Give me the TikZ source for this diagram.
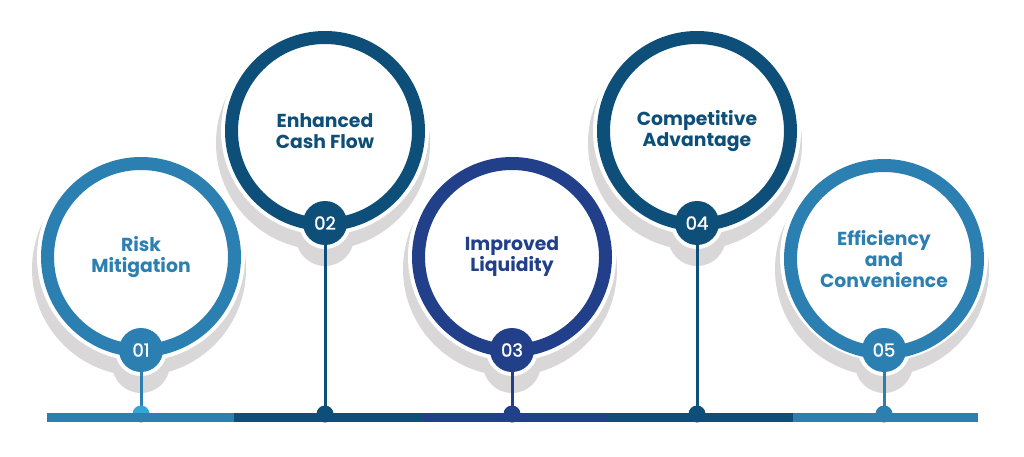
\documentclass[tikz,border=0pt]{standalone}
\usepackage{fontspec}
\setmainfont{Poppins}
\newfontfamily\numfont{Poppins}[FakeBold=1.3]
\definecolor{cLight}{HTML}{2C7FB1}
\definecolor{cDark}{HTML}{0E4F79}
\definecolor{cNavy}{HTML}{22408A}
\definecolor{cDome}{HTML}{3AA3D6}
\definecolor{shadowgray}{HTML}{D9D7D7}
\tikzset{
  ringshadow/.style={circle, fill=shadowgray, minimum size=214pt, inner sep=0pt},
  ringhalo/.style={circle, fill=white, minimum size=208pt, inner sep=0pt},
  ring/.style={circle, draw=#1, line width=13pt, minimum size=187pt, inner sep=0pt,
    text=#1, font=\bfseries\fontsize{18.8}{21}\selectfont, align=center},
  badgeshadow/.style={circle, fill=shadowgray, minimum size=58pt, inner sep=0pt},
  badgehalo/.style={circle, fill=white, minimum size=52pt, inner sep=0pt},
  badge/.style={circle, fill=#1, minimum size=44pt, inner sep=0pt,
    text=white, font=\numfont\fontsize{18}{18}\selectfont},
  stem/.style={draw=#1, line width=3pt},
  dome/.style={circle, fill=#1, minimum size=17pt, inner sep=0pt},
  barseg/.style={fill=#1},
}
\begin{document}
\begin{tikzpicture}[x=1pt,y=-1pt]
\useasboundingbox (0,0) rectangle (1024,457);
% ring shadows
\node[ringshadow] (s1) at (139,269) {};
\node[ringshadow] (s2) at (323,143) {};
\node[ringshadow] (s3) at (510,269) {};
\node[ringshadow] (s4) at (695,143) {};
\node[ringshadow] (s5) at (882,269) {};
% badge shadows
\node[badgeshadow] (bs1) at (141,364) {};
\node[badgeshadow] (bs2) at (325,237) {};
\node[badgeshadow] (bs3) at (512,364) {};
\node[badgeshadow] (bs4) at (697,237) {};
\node[badgeshadow] (bs5) at (884,364) {};
% halos
\node[ringhalo] (h1) at (141,257) {};
\node[ringhalo] (h2) at (325,131) {};
\node[ringhalo] (h3) at (512,257) {};
\node[ringhalo] (h4) at (697,131) {};
\node[ringhalo] (h5) at (884,257) {};
\node[badgehalo] (bh1) at (141,350) {};
\node[badgehalo] (bh2) at (325,223) {};
\node[badgehalo] (bh3) at (512,350) {};
\node[badgehalo] (bh4) at (697,223) {};
\node[badgehalo] (bh5) at (884,350) {};
% rings with titles
\node[ring=cLight] (r1) at (141,257) {Risk\\Mitigation};
\node[ring=cDark]  (r2) at (325,131) {Enhanced\\Cash Flow};
\node[ring=cNavy]  (r3) at (512,257) {Improved\\Liquidity};
\node[ring=cDark]  (r4) at (697,131) {Competitive\\Advantage};
\node[ring=cLight] (r5) at (884,259) {Efficiency\\and\\Convenience};
% badge end points on bar
\coordinate (d1p) at (141,414);
\coordinate (d2p) at (325,414);
\coordinate (d3p) at (512,414);
\coordinate (d4p) at (697,414);
\coordinate (d5p) at (884,414);
% badges
\node[badge=cLight] (b1) at (141,350) {01};
\node[badge=cDark]  (b2) at (325,223) {02};
\node[badge=cNavy]  (b3) at (512,350) {03};
\node[badge=cDark]  (b4) at (697,223) {04};
\node[badge=cLight] (b5) at (884,350) {05};
% stems
\draw[stem=cLight] (b1.south) -- (d1p);
\draw[stem=cDark]  (b2.south) -- (d2p);
\draw[stem=cNavy]  (b3.south) -- (d3p);
\draw[stem=cDark]  (b4.south) -- (d4p);
\draw[stem=cLight] (b5.south) -- (d5p);
% domes
\node[dome=cDome]  (d1) at (d1p) {};
\node[dome=cDark]  (d2) at (d2p) {};
\node[dome=cNavy]  (d3) at (d3p) {};
\node[dome=cDark]  (d4) at (d4p) {};
\node[dome=cLight] (d5) at (d5p) {};
% bar
\fill[barseg=cLight] (47,413) rectangle (234,422);
\fill[barseg=cDark]  (234,413) rectangle (421,422);
\fill[barseg=cNavy]  (421,413) rectangle (607,422);
\fill[barseg=cDark]  (607,413) rectangle (793,422);
\fill[barseg=cLight] (793,413) rectangle (978,422);
\end{tikzpicture}
\end{document}
